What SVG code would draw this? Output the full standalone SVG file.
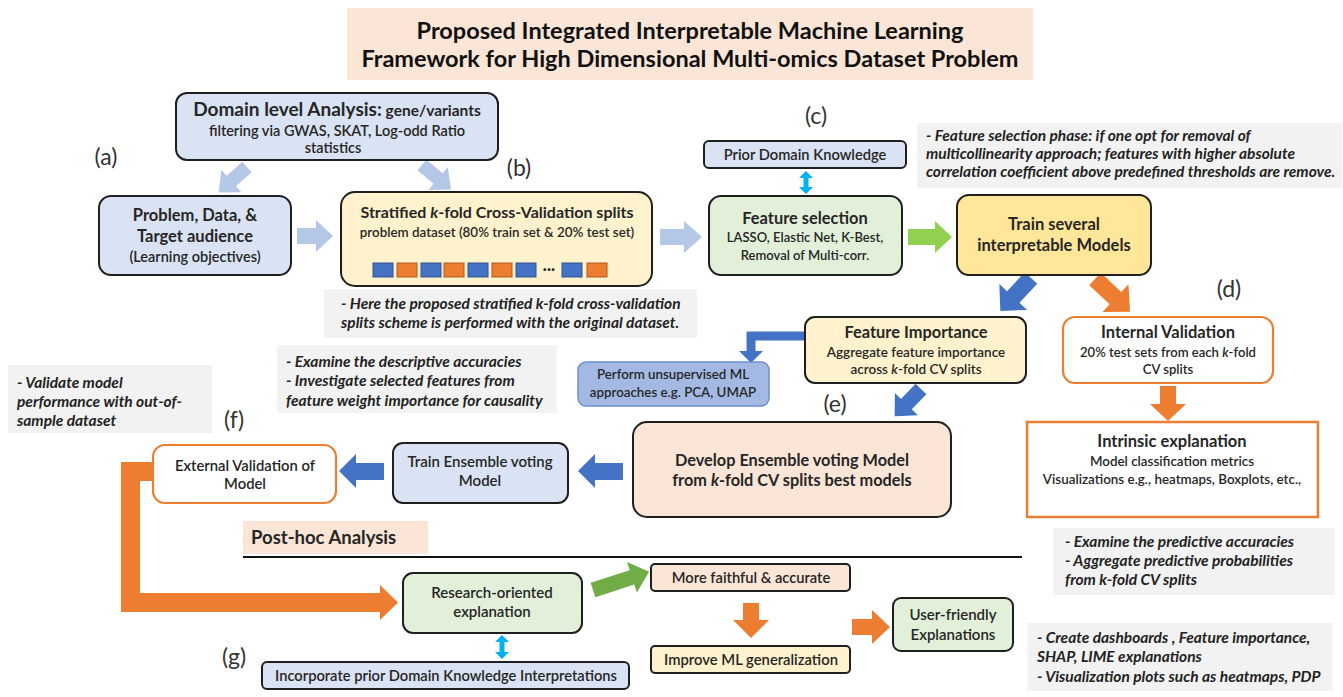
<svg xmlns="http://www.w3.org/2000/svg" width="1343" height="697" viewBox="0 0 1343 697">
<style>
text{font-family:Lato,"Liberation Sans",sans-serif;fill:#262626}
.c{text-anchor:middle}
.b{font-weight:700}
.s{font-weight:600}
.lab{font-size:23px;font-weight:400;fill:#333;text-anchor:middle}
.note{fill:#F2F2F2}
.nt{font-style:italic;font-weight:700;font-size:15.5px;fill:#222}
.nd{stroke:#1f1f1f;stroke-width:2}
.or{fill:#fff;stroke:#ED7D31;stroke-width:2.2}
.lb{fill:#B4C7E7}
.bl{fill:#4472C4}
.og{fill:#ED7D31}
.cy{fill:#00B0F0}
.sqb{fill:#4472C4;stroke:#2F528F;stroke-width:1}
.sqo{fill:#ED7D31;stroke:#AE5A21;stroke-width:1}
</style>

<g id="title">
<rect x="347" y="8" width="686" height="72" fill="#FBE5D6"/>
<text x="690" y="39" class="c b" font-size="23.5" style="fill:#111">Proposed Integrated Interpretable Machine Learning</text>
<text x="690" y="67" class="c b" font-size="23.5" style="fill:#111">Framework for High Dimensional Multi-omics Dataset Problem</text>
</g>

<g id="labels">
<text x="106" y="165" class="lab">(a)</text>
<text x="519" y="176" class="lab">(b)</text>
<text x="816" y="124" class="lab">(c)</text>
<text x="1229" y="297" class="lab">(d)</text>
<text x="835" y="412" class="lab">(e)</text>
<text x="234" y="428" class="lab">(f)</text>
<text x="234" y="665" class="lab">(g)</text>
</g>

<g id="connectors">
<polygon class="lb" points="0,-7 21,-7 21,-15 38,0 21,15 21,7 0,7" transform="translate(247,167) rotate(138)"/>
<polygon class="lb" points="0,-7 21,-7 21,-15 38,0 21,15 21,7 0,7" transform="translate(422,165) rotate(40)"/>
<polygon class="lb" points="297,228 316,228 316,220 333,236 316,252 316,244 297,244"/>
<polygon class="lb" points="660,229 684,229 684,221 702,237 684,253 684,245 660,245"/>
<polygon fill="#92D050" points="908,229 935,229 935,221 952,237 935,253 935,245 908,245"/>
<polygon class="cy" points="806,171 813,178 808.5,178 808.5,187 813,187 806,194 799,187 803.5,187 803.5,178 799,178"/>
<polygon class="bl" points="0,-8.5 26,-8.5 26,-19 45,0 26,19 26,8.5 0,8.5" transform="translate(1031,278) rotate(133)"/>
<polygon class="og" points="0,-8.5 28,-8.5 28,-19 48,0 28,19 28,8.5 0,8.5" transform="translate(1095,279) rotate(43)"/>
<path d="M805,336 H751 V352" fill="none" stroke="#4472C4" stroke-width="9"/>
<polygon class="bl" points="739,351 763,351 751,363"/>
<polygon class="bl" points="0,-7.5 21,-7.5 21,-16 38,0 21,16 21,7.5 0,7.5" transform="translate(921,389) rotate(134)"/>
<polygon class="bl" points="623,463 595,463 595,454 578,471 595,488 595,480 623,480"/>
<polygon class="bl" points="384,463 356,463 356,454 339,471 356,488 356,480 384,480"/>
<polygon class="og" points="153,462 121,462 121,612 380,612 380,620 398,602.5 380,585 380,593 140,593 140,481 153,481"/>
<polygon class="og" points="1160,386 1176,386 1176,404 1186,404 1168,421 1150,404 1160,404"/>
<polygon fill="#70AD47" points="0,-7.5 41,-7.5 41,-16 59,0 41,16 41,7.5 0,7.5" transform="translate(593,590) rotate(-18)"/>
<polygon class="cy" points="502,635 509,642 504.5,642 504.5,652 509,652 502,659 495,652 499.5,652 499.5,642 495,642"/>
<polygon class="og" points="743,603 759,603 759,620 769,620 751,638 733,620 743,620"/>
<polygon class="og" points="852,619 872,619 872,610 890,627 872,644 872,635 852,635"/>
<line x1="243" y1="557" x2="1022" y2="557" stroke="#111" stroke-width="2"/>
</g>

<g id="domain">
<rect class="nd" x="176" y="93" width="322" height="67" rx="11" fill="#DAE3F3"/>
<text x="337" y="116" class="c b"><tspan font-size="19">Domain level Analysis:</tspan><tspan font-size="15.5"> gene/variants</tspan></text>
<text x="337" y="136" class="c s" font-size="14.5">filtering via GWAS, SKAT, Log-odd Ratio</text>
<text x="333" y="153" class="c s" font-size="14.5">statistics</text>
</g>

<g id="problem">
<rect class="nd" x="99" y="196" width="192" height="79" rx="12" fill="#DAE3F3"/>
<text x="195" y="221" class="c b" font-size="16.5">Problem, Data, &amp;</text>
<text x="195" y="242" class="c b" font-size="16.5">Target audience</text>
<text x="195" y="262" class="c s" font-size="14.5">(Learning objectives)</text>
</g>

<g id="stratified">
<rect class="nd" x="341" y="192" width="311" height="94" rx="14" fill="#FFF2CC"/>
<text x="497" y="218" class="c b" font-size="16">Stratified <tspan font-style="italic">k</tspan>-fold Cross-Validation splits</text>
<text x="497" y="237" class="c s" font-size="13.4">problem dataset (80% train set &amp; 20% test set)</text>
<rect class="sqb" x="373" y="263" width="20" height="14"/>
<rect class="sqo" x="397" y="263" width="20" height="14"/>
<rect class="sqb" x="421" y="263" width="20" height="14"/>
<rect class="sqo" x="444" y="263" width="20" height="14"/>
<rect class="sqb" x="468" y="263" width="20" height="14"/>
<rect class="sqo" x="492" y="263" width="20" height="14"/>
<rect class="sqb" x="516" y="263" width="20" height="14"/>
<text x="549" y="274" class="c b" font-size="15">···</text>
<rect class="sqb" x="562" y="263" width="20" height="14"/>
<rect class="sqo" x="587" y="263" width="20" height="14"/>
</g>

<g id="note-b">
<rect class="note" x="324" y="289" width="373" height="49"/>
<text x="341" y="309" class="nt" font-size="14">- Here the proposed stratified k-fold cross-validation</text>
<text x="341" y="328" class="nt" font-size="14">splits scheme is performed with the original dataset.</text>
</g>

<g id="prior">
<rect class="nd" x="704" y="141" width="202" height="27" rx="5" fill="#DAE3F3"/>
<text x="805" y="160" class="c s" font-size="14.7">Prior Domain Knowledge</text>
</g>

<g id="feature-selection">
<rect class="nd" x="709" y="196" width="193" height="79" rx="12" fill="#E2F0D9"/>
<text x="805" y="224" class="c b" font-size="16.4">Feature selection</text>
<text x="805" y="242" class="c s" font-size="13">LASSO, Elastic Net, K-Best,</text>
<text x="805" y="260" class="c s" font-size="13">Removal of Multi-corr.</text>
</g>

<g id="note-fs">
<rect class="note" x="917" y="123" width="425" height="65"/>
<text x="926" y="141" class="nt" font-size="13.8">- Feature selection phase: if one opt for removal of</text>
<text x="926" y="159" class="nt" font-size="13.8">multicollinearity  approach;  features with higher absolute</text>
<text x="926" y="177" class="nt" font-size="13.8">correlation coefficient above predefined thresholds are remove.</text>
</g>

<g id="train">
<rect class="nd" x="957" y="195" width="194" height="80" rx="12" fill="#FFE699"/>
<text x="1054" y="230" class="c b" font-size="16.5">Train several</text>
<text x="1054" y="251" class="c b" font-size="16.5">interpretable Models</text>
</g>

<g id="feature-importance">
<rect class="nd" x="805" y="317" width="221" height="66" rx="10" fill="#FFF2CC"/>
<text x="916" y="338" class="c b" font-size="16.4">Feature Importance</text>
<text x="916" y="357" class="c s" font-size="13.5">Aggregate feature importance</text>
<text x="916" y="374" class="c s" font-size="13.5">across <tspan font-style="italic">k</tspan>-fold  CV splits</text>
</g>

<g id="unsupervised">
<rect x="578" y="362" width="191" height="44" rx="8" fill="#A3B9E4" stroke="#6C8FD3" stroke-width="1.5"/>
<text x="673" y="379" class="c s" font-size="13.3">Perform unsupervised  ML</text>
<text x="673" y="397" class="c s" font-size="13.3">approaches  e.g. PCA, UMAP</text>
</g>

<g id="develop">
<rect class="nd" x="633" y="422" width="318" height="95" rx="14" fill="#FBE5D6"/>
<text x="792" y="466" class="c b" font-size="16.3">Develop Ensemble voting Model</text>
<text x="792" y="486" class="c b" font-size="16.3">from <tspan font-style="italic">k</tspan>-fold CV splits best models</text>
</g>

<g id="train-ensemble">
<rect class="nd" x="393" y="443" width="175" height="60" rx="10" fill="#DAE3F3"/>
<text x="480" y="467" class="c s" font-size="15">Train Ensemble voting</text>
<text x="480" y="486" class="c s" font-size="15">Model</text>
</g>

<g id="external">
<rect class="or" x="153" y="445" width="183" height="58" rx="12"/>
<text x="245" y="471" class="c s" font-size="14.8">External Validation of</text>
<text x="245" y="489" class="c s" font-size="14.8">Model</text>
</g>

<g id="note-f">
<rect class="note" x="8" y="365" width="204" height="68"/>
<text x="17" y="388" class="nt">- Validate model</text>
<text x="17" y="407" class="nt">performance with out-of-</text>
<text x="17" y="426" class="nt">sample dataset</text>
</g>

<g id="note-e">
<rect class="note" x="277" y="345" width="280" height="68"/>
<text x="286" y="367" class="nt">- Examine the descriptive accuracies</text>
<text x="286" y="386" class="nt">- Investigate selected features from</text>
<text x="286" y="406" class="nt">feature weight importance for causality</text>
</g>

<g id="internal">
<rect class="or" x="1063" y="317" width="210" height="66" rx="12"/>
<text x="1168" y="338" class="c b" font-size="16.5">Internal Validation</text>
<text x="1168" y="357" class="c s" font-size="13.1">20% test sets from each <tspan font-style="italic">k</tspan>-fold</text>
<text x="1168" y="374" class="c s" font-size="13.1">CV splits</text>
</g>

<g id="intrinsic">
<rect class="or" x="1027" y="422" width="291" height="95" style="stroke-width:2.5"/>
<text x="1172" y="447" class="c b" font-size="16.5">Intrinsic explanation</text>
<text x="1172" y="466" class="c s" font-size="13.4">Model classification  metrics</text>
<text x="1172" y="484" class="c s" font-size="13.4">Visualizations  e.g.,  heatmaps, Boxplots,  etc.,</text>
</g>

<g id="note-d">
<rect class="note" x="1053" y="528" width="282" height="67"/>
<text x="1065" y="547" class="nt">- Examine the predictive accuracies</text>
<text x="1065" y="566" class="nt">- Aggregate predictive probabilities</text>
<text x="1065" y="585" class="nt">from k-fold CV splits</text>
</g>

<g id="posthoc">
<rect x="243" y="521" width="185" height="33" fill="#FBE5D6"/>
<text x="251" y="544" class="b" font-size="18.5">Post-hoc Analysis</text>
</g>

<g id="research">
<rect class="nd" x="403" y="573" width="179" height="60" rx="10" fill="#E2F0D9"/>
<text x="492" y="598" class="c s" font-size="15">Research-oriented</text>
<text x="492" y="617" class="c s" font-size="15">explanation</text>
</g>

<g id="incorporate">
<rect class="nd" x="262" y="662" width="367" height="27" rx="5" fill="#DAE3F3"/>
<text x="446" y="681" class="c s" font-size="14.7">Incorporate prior Domain Knowledge Interpretations</text>
</g>

<g id="faithful">
<rect class="nd" x="651" y="564" width="199" height="27" rx="4" fill="#FBE5D6"/>
<text x="751" y="583" class="c s" font-size="14.7">More faithful &amp; accurate</text>
</g>

<g id="improve">
<rect class="nd" x="651" y="646" width="199" height="27" rx="4" fill="#FFF2CC"/>
<text x="751" y="665" class="c s" font-size="14.8">Improve ML generalization</text>
</g>

<g id="user">
<rect class="nd" x="893" y="598" width="120" height="53" rx="8" fill="#E2F0D9"/>
<text x="953" y="620" class="c s" font-size="15">User-friendly</text>
<text x="953" y="640" class="c s" font-size="15">Explanations</text>
</g>

<g id="note-g">
<rect class="note" x="1027" y="623" width="306" height="68"/>
<text x="1037" y="643" class="nt">- Create dashboards , Feature importance,</text>
<text x="1037" y="662" class="nt">SHAP, LIME explanations</text>
<text x="1037" y="682" class="nt">- Visualization plots such as heatmaps, PDP</text>
</g>
</svg>
